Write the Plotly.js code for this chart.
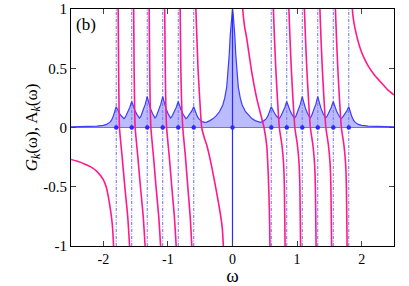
<!DOCTYPE html>
<html>
<head>
<meta charset="utf-8">
<script src="https://cdn.plot.ly/plotly-3.0.1.min.js"></script>
<style>html,body{margin:0;padding:0;background:#fff;}#chart{width:409px;height:286px;}</style>
</head>
<body>
<div id="chart"></div>
<script>
// Pole / peak positions (blue dots, dashed lines)
const poles = [-1.8, -1.56, -1.32, -1.08, -0.84, -0.6, 0, 0.6, 0.84, 1.08, 1.32, 1.56, 1.8];

// Spectral function A_k(omega) (left half, then right half)
const aOmegaLeft = [-2.5,-2.3,-2.1,-2.0,-1.95,-1.9,-1.875,-1.85,-1.83,-1.815,-1.8,
  -1.785,-1.77,-1.75,-1.72,-1.7,-1.68,
  -1.66,-1.64,-1.61,-1.59,-1.575,-1.56,
  -1.545,-1.53,-1.51,-1.48,-1.46,-1.44,
  -1.42,-1.4,-1.37,-1.35,-1.335,-1.32,
  -1.305,-1.29,-1.27,-1.24,-1.22,-1.2,
  -1.18,-1.16,-1.13,-1.11,-1.095,-1.08,
  -1.065,-1.05,-1.03,-1.0,-0.98,-0.96,
  -0.94,-0.92,-0.89,-0.87,-0.855,-0.84,
  -0.825,-0.81,-0.79,-0.76,-0.74,-0.72,
  -0.7,-0.68,-0.65,-0.63,-0.615,-0.6,
  -0.585,-0.57,-0.55,-0.52,-0.5,-0.47,-0.43,-0.4,-0.35,-0.3,-0.25,-0.2,-0.15,-0.12,-0.09,-0.065,-0.05,-0.035,-0.02,-0.01,0];
const aValueLeft = [0.005,0.007,0.012,0.018,0.026,0.043,0.06,0.088,0.12,0.148,0.175,
  0.158,0.14,0.12,0.097,0.083,0.075,
  0.087,0.107,0.14,0.169,0.195,0.22,
  0.196,0.171,0.143,0.111,0.091,0.08,
  0.094,0.12,0.161,0.197,0.229,0.26,
  0.229,0.197,0.161,0.12,0.094,0.08,
  0.094,0.12,0.161,0.197,0.229,0.26,
  0.229,0.197,0.161,0.12,0.094,0.08,
  0.091,0.111,0.143,0.171,0.196,0.22,
  0.195,0.169,0.14,0.107,0.087,0.075,
  0.083,0.097,0.12,0.14,0.158,0.175,
  0.152,0.128,0.1,0.072,0.06,0.05,0.044,0.046,0.058,0.075,0.1,0.135,0.19,0.25,0.34,0.48,0.62,0.78,0.9,0.96,1.0];
const aOmegaRight = [0.01,0.02,0.035,0.05,0.065,0.09,0.12,0.15,0.2,0.25,0.3,0.35,0.4,0.43,0.47,0.5,0.52,0.55,0.57,0.585,
  0.6,0.615,0.63,0.65,0.68,0.7,0.72,
  0.74,0.76,0.79,0.81,0.825,0.84,
  0.855,0.87,0.89,0.92,0.94,0.96,
  0.98,1.0,1.03,1.05,1.065,1.08,
  1.095,1.11,1.13,1.16,1.18,1.2,
  1.22,1.24,1.27,1.29,1.305,1.32,
  1.335,1.35,1.37,1.4,1.42,1.44,
  1.46,1.48,1.51,1.53,1.545,1.56,
  1.575,1.59,1.61,1.64,1.66,1.68,
  1.7,1.72,1.75,1.77,1.785,1.8,
  1.815,1.83,1.85,1.875,1.9,1.95,2.0,2.1,2.3,2.5];
const aValueRight = [0.96,0.9,0.78,0.62,0.48,0.34,0.25,0.19,0.135,0.1,0.075,0.058,0.046,0.044,0.05,0.06,0.072,0.1,0.128,0.152,
  0.175,0.158,0.14,0.12,0.097,0.083,0.075,
  0.087,0.107,0.14,0.169,0.195,0.22,
  0.196,0.171,0.143,0.111,0.091,0.08,
  0.094,0.12,0.161,0.197,0.229,0.26,
  0.229,0.197,0.161,0.12,0.094,0.08,
  0.094,0.12,0.161,0.197,0.229,0.26,
  0.229,0.197,0.161,0.12,0.094,0.08,
  0.091,0.111,0.143,0.171,0.196,0.22,
  0.195,0.169,0.14,0.107,0.087,0.075,
  0.083,0.097,0.12,0.14,0.158,0.175,
  0.148,0.12,0.088,0.06,0.043,0.026,0.018,0.012,0.007,0.005];

// Green's function G_k(omega); null separates branches
const gOmega = [
  -2.5,-2.4,-2.3,-2.2,-2.1,-2.0,-1.95,-1.92,-1.89,-1.87,-1.855,-1.845,-1.84, null,
  -1.772,-1.77,-1.763,-1.758,-1.75,-1.708,-1.667,-1.622,-1.593,-1.591, null,
  -1.532,-1.53,-1.523,-1.517,-1.507,-1.465,-1.425,-1.382,-1.353,-1.351, null,
  -1.292,-1.29,-1.282,-1.276,-1.264,-1.222,-1.184,-1.142,-1.113,-1.111, null,
  -1.052,-1.05,-1.041,-1.034,-1.02,-0.978,-0.94,-0.9,-0.872,-0.87, null,
  -0.812,-0.81,-0.8,-0.79,-0.77,-0.728,-0.692,-0.655,-0.63,-0.628, null,
  -0.571,-0.567,-0.534,-0.503,-0.477,-0.44,-0.399,-0.322,-0.245,-0.193,-0.158,-0.142,-0.139, null,
  0.155,0.158,0.185,0.22,0.297,0.375,0.452,0.488,0.529,0.554,0.57,0.58,0.582, null,
  0.63,0.633,0.65,0.67,0.695,0.725,0.765,0.79,0.803,0.814,0.816, null,
  0.87,0.873,0.89,0.91,0.935,0.965,1.005,1.03,1.043,1.054,1.056, null,
  1.11,1.113,1.13,1.15,1.175,1.205,1.245,1.27,1.283,1.294,1.296, null,
  1.35,1.353,1.37,1.39,1.415,1.445,1.485,1.51,1.523,1.534,1.536, null,
  1.59,1.593,1.61,1.63,1.655,1.685,1.725,1.75,1.763,1.774,1.776, null,
  1.852,1.855,1.875,1.92,1.97,2.025,2.1,2.2,2.3,2.4,2.5];
const gValue = [
  -0.27,-0.285,-0.305,-0.33,-0.37,-0.44,-0.51,-0.59,-0.69,-0.77,-0.86,-0.95,-1.02, null,
  1.05,1,0.5,0.25,0,-0.25,-0.5,-0.75,-1,-1.05, null,
  1.05,1,0.5,0.25,0,-0.25,-0.5,-0.75,-1,-1.05, null,
  1.05,1,0.5,0.25,0,-0.25,-0.5,-0.75,-1,-1.05, null,
  1.05,1,0.5,0.25,0,-0.25,-0.5,-0.75,-1,-1.05, null,
  1.05,1,0.5,0.25,0,-0.25,-0.5,-0.75,-1,-1.05, null,
  1.05,1.0,0.5,0.2,0.0,-0.08,-0.148,-0.33,-0.55,-0.711,-0.851,-1.0,-1.05, null,
  1.05,1.0,0.86,0.753,0.471,0.246,0.078,0.0,-0.148,-0.4,-0.68,-1.0,-1.05, null,
  1.05,1,0.75,0.5,0.25,0,-0.15,-0.3,-0.5,-1,-1.05, null,
  1.05,1,0.75,0.5,0.25,0,-0.15,-0.3,-0.5,-1,-1.05, null,
  1.05,1,0.75,0.5,0.25,0,-0.15,-0.3,-0.5,-1,-1.05, null,
  1.05,1,0.75,0.5,0.25,0,-0.15,-0.3,-0.5,-1,-1.05, null,
  1.05,1,0.75,0.5,0.25,0,-0.15,-0.3,-0.5,-1,-1.05, null,
  1.05,1.0,0.9,0.78,0.68,0.6,0.52,0.44,0.38,0.32,0.275];

const xTickVals = [-2, -1, 0, 1, 2];
const xTickText = ['-2', '-1', '0', '1', '2'];
const yTickVals = [-1, -0.5, 0, 0.5, 1];
const yTickText = ['-1', '-0.5', '0', '0.5', '1'];
const yRange = [-1, 1];

// build vertical pole lines
const dashX = [], dashY = [], solidX = [], solidY = [];
poles.forEach(p => {
  if (p === 0) { solidX.push(p, p, null); solidY.push(yRange[0], yRange[1], null); }
  else { dashX.push(p, p, null); dashY.push(yRange[0], yRange[1], null); }
});

const traces = [
  {x: dashX, y: dashY, mode: 'lines', line: {color: 'rgba(70,70,255,0.8)', width: 1, dash: '3px,1.5px,1px,1.5px'}, hoverinfo: 'skip'},
  {x: aOmegaLeft.concat(aOmegaRight), y: aValueLeft.concat(aValueRight), mode: 'lines', fill: 'tozeroy',
   fillcolor: 'rgba(120,120,255,0.5)', line: {color: '#3c3cff', width: 1.2}},
  {x: solidX, y: solidY, mode: 'lines', line: {color: '#2a2aff', width: 1.2}},
  {x: gOmega, y: gValue, mode: 'lines', connectgaps: false, line: {color: '#ff1a8c', width: 1.6, shape: 'spline', smoothing: 0.5}},
  {x: poles, y: poles.map(() => 0), mode: 'markers', marker: {color: '#2a2aff', size: 4.5}}
];

const serif = "'Liberation Serif', 'Times New Roman', Times, serif";
const layout = {
  width: 409, height: 286,
  margin: {l: 71, r: 15, t: 9, b: 40},
  paper_bgcolor: '#fff', plot_bgcolor: '#fff',
  showlegend: false,
  font: {family: serif, size: 14, color: '#000'},
  xaxis: {range: [-2.5, 2.5], tickvals: xTickVals, ticktext: xTickText, ticks: 'inside', ticklen: 5,
    showline: true, linecolor: '#000', linewidth: 1, mirror: 'ticks', showgrid: false, zeroline: false,
    tickfont: {family: serif, size: 14}, automargin: false,
    title: {text: 'ω', font: {family: serif, size: 19}, standoff: 7}},
  yaxis: {range: yRange, tickvals: yTickVals, ticktext: yTickText, ticks: 'inside', ticklen: 5,
    showline: true, linecolor: '#000', linewidth: 1, mirror: 'ticks', showgrid: false,
    zeroline: true, zerolinecolor: '#7a7a8a', zerolinewidth: 1.6,
    tickfont: {family: serif, size: 15}, automargin: false,
    title: {text: '<i>G</i><sub><i>k</i></sub>(ω), A<sub><i>k</i></sub>(ω)', font: {family: serif, size: 17}, standoff: 1}},
  annotations: [{text: '(b)', xref: 'paper', yref: 'paper', x: 0.008, y: 0.935, xanchor: 'left', yanchor: 'middle',
    showarrow: false, font: {family: serif, size: 17}}]
};

Plotly.newPlot('chart', traces, layout, {displayModeBar: false, staticPlot: true});
</script>
</body>
</html>
